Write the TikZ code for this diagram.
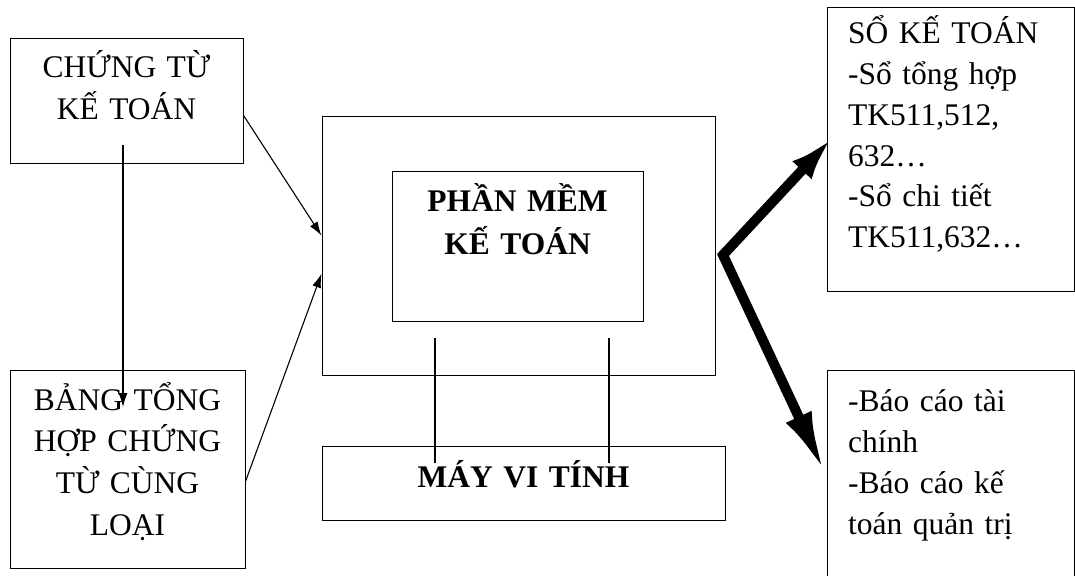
\documentclass[tikz,border=0pt]{standalone}
\usepackage{fontspec}
\setmainfont{Liberation Serif}
\usetikzlibrary{arrows.meta}

\tikzset{
  hop/.style={draw, line width=1pt, inner sep=0pt},
  chu/.style={inner sep=0pt, anchor=base, align=center},
  chutrai/.style={inner sep=0pt, anchor=base west, align=left, text width=220pt},
  muiten/.style={-{Latex[length=14pt,width=9pt]}, line width=1.1pt},
  day/.style={line width=1.1pt},
}

\begin{document}
\begin{tikzpicture}[x=1pt,y=-1pt]
	\def\cochu#1{\fontsize{31.5}{#1}\selectfont}
	\useasboundingbox (0,0) rectangle (1075,575);
	\clip (0,0) rectangle (1075,575);
	
	% cac khung
	\node[hop, minimum width=233pt, minimum height=124pt] (boxCT) at (126.5,101) {};
	\node[hop, minimum width=235pt, minimum height=198pt] (boxBTH) at (127.5,469) {};
	\node[hop, minimum width=393pt, minimum height=258pt] (boxSW) at (518.5,246) {};
	\node[hop, minimum width=251pt, minimum height=150pt] (boxPM) at (517.5,246) {};
	\node[hop, minimum width=403pt, minimum height=74pt] (boxMVT) at (523.5,483) {};
	\node[hop, minimum width=247pt, minimum height=283pt] (boxSKT) at (950.5,149.5) {};
	\node[hop, minimum width=247pt, minimum height=240pt] (boxBC) at (950.5,490) {};
	
	% chu
	\node[chu, text width=233pt, font=\cochu{42}] (txtCT) at (126.5,78) {CHỨNG TỪ\\KẾ TOÁN};
	\node[chu, text width=235pt, font=\cochu{41.7}] (txtBTH) at (127.5,410) {BẢNG TỔNG\\HỢP CHỨNG\\TỪ CÙNG\\LOẠI};
	\node[chu, text width=251pt, font=\cochu{43}\bfseries] (txtPM) at (517.5,211) {PHẦN MỀM\\KẾ TOÁN};
	\node[chu, text width=403pt, font=\cochu{41}\bfseries] (txtMVT) at (523.5,487) {MÁY VI TÍNH};
	\node[chutrai, font=\cochu{40.7}] (txtSKT) at (848,44) {SỔ KẾ TOÁN\\-Sổ tổng hợp\\TK511,512,\\632…\\-Sổ chi tiết\\TK511,632…};
	\node[chutrai, font=\cochu{41}] (txtBC) at (848,411) {-Báo cáo tài\\chính\\-Báo cáo kế\\toán quản trị};
	
	% mui ten mong
	\coordinate (ctDay) at (123,145);
	\coordinate (bthDinh) at (123,407);
	\draw[muiten] (ctDay) -- (bthDinh);
	\draw[muiten] (boxCT.-7) -- (boxSW.177);
	\draw[muiten] (boxBTH.-6) -- (boxSW.188);
	
	\foreach \x/\ten in {435/A,609/B}
	{
		\coordinate (tren\ten) at (\x,338);
		\coordinate (duoi\ten) at (\x,463);
		\draw[day] (tren\ten) -- (duoi\ten);
	}
	
	% mui ten dam
	\coordinate (reNhanh) at (723,255);
	\coordinate (dinhSKT) at (832,138);
	\coordinate (dinhBC) at (825,473);
	\draw[line width=10pt, line join=miter,
		{Latex[length=44pt,width=26pt]}-{Latex[length=62pt,width=28pt]}]
		(dinhSKT) -- (reNhanh) -- (dinhBC);
\end{tikzpicture}
\end{document}
